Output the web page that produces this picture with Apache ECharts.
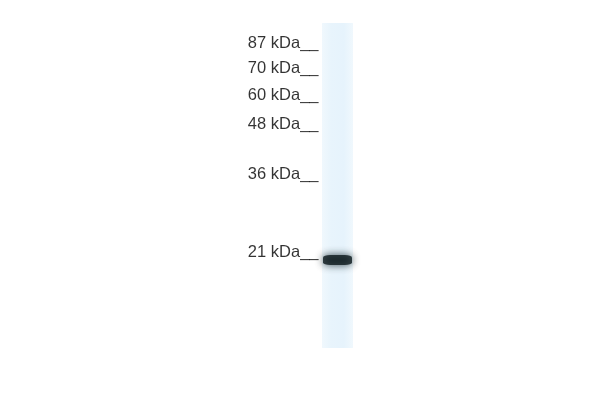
<!DOCTYPE html>
<html>
<head>
<meta charset="utf-8">
<script src="https://cdn.jsdelivr.net/npm/echarts@6/dist/echarts.min.js"></script>
<style>
  html, body { margin: 0; padding: 0; background: #fff; }
  #chart { width: 600px; height: 400px; }
</style>
</head>
<body>
<div id="chart"></div>
<script>
// marker ladder (kDa) and relative mobility (Rf, 0 = top of lane, 1 = bottom)
var markerLabels = ['87 kDa', '70 kDa', '60 kDa', '48 kDa', '36 kDa', '21 kDa'];
var markerRf = [0.089, 0.163, 0.249, 0.338, 0.492, 0.732];
// detected band in the single lane
var bandRf = [0.729];
var bandIntensity = [1];

var chart = echarts.init(document.getElementById('chart'));

var option = {
  backgroundColor: '#ffffff',
  animation: false,
  grid: { left: 322, right: 247, top: 23, bottom: 52 },
  xAxis: { type: 'value', min: 0, max: 1, show: false },
  yAxis: { type: 'value', min: 0, max: 1, inverse: true, show: false },
  series: [
    {
      name: 'ladder',
      type: 'scatter',
      symbol: 'circle',
      symbolSize: 1,
      itemStyle: { color: 'rgba(0,0,0,0)' },
      data: markerRf.map(function (v, i) { return { value: [0, v], name: markerLabels[i] }; }),
      label: {
        show: true,
        position: 'left',
        distance: 3,
        offset: [0, -8],
        formatter: function (p) { return p.name + '__'; },
        color: '#000000',
        fontFamily: 'Liberation Sans, Arial, sans-serif',
        fontSize: 16.5
      },
      markArea: {
        silent: true,
        itemStyle: {
          color: new echarts.graphic.LinearGradient(0, 0, 1, 0, [
            { offset: 0, color: '#f0f8fd' },
            { offset: 0.3, color: '#e8f4fc' },
            { offset: 0.7, color: '#e6f3fc' },
            { offset: 1, color: '#f0f8fd' }
          ])
        },
        data: [[{ coord: [0, 0] }, { coord: [1, 1] }]]
      }
    },
    {
      name: 'band',
      type: 'scatter',
      symbol: 'roundRect',
      symbolSize: [29, 10],
      data: bandRf.map(function (v, i) { return [0.5, v, bandIntensity[i]]; }),
      itemStyle: {
        color: '#0c191d',
        shadowBlur: 8,
        shadowColor: 'rgba(12, 30, 35, 1)'
      }
    }
  ]
};

chart.setOption(option);
</script>
</body>
</html>
